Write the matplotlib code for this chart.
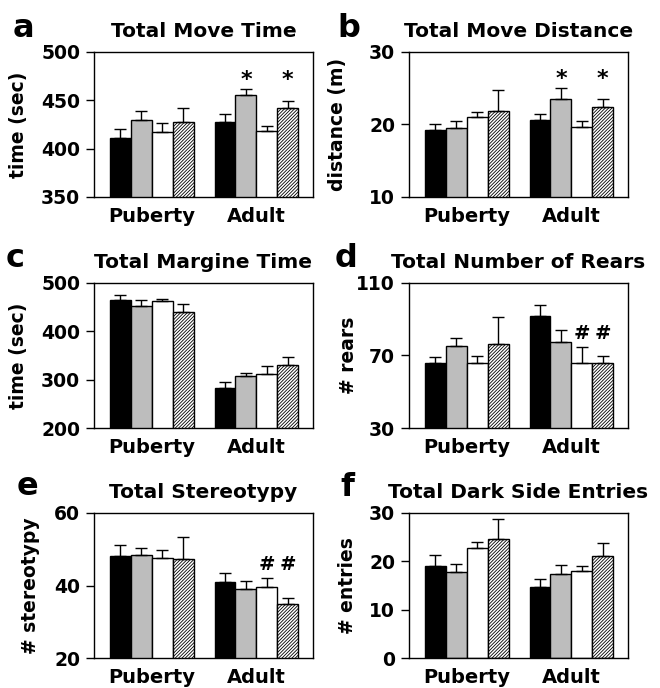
import matplotlib
matplotlib.use("Agg")
import matplotlib.pyplot as plt
from matplotlib.transforms import blended_transform_factory

plt.rcParams["font.family"] = ["DejaVu Sans"]
plt.rcParams["font.weight"] = "bold"
plt.rcParams["hatch.linewidth"] = 0.6

groups = ["Puberty", "Adult"]

# bars per group: black, gray, white, hatched
move_time = [[411, 430, 417, 428], [428, 455, 418, 442]]
move_time_err = [[9, 9, 9.6, 14.5], [8, 7, 5, 7.5]]

move_dist = [[19.3, 19.5, 21.1, 21.8], [20.6, 23.5, 19.6, 22.4]]
move_dist_err = [[0.8, 1.0, 0.6, 2.9], [0.8, 1.5, 0.85, 1.1]]

margin_time = [[464, 453, 463, 439], [283, 308, 312, 331]]
margin_time_err = [[12, 12, 4, 18], [12, 6, 17, 15]]

rears = [[66, 75, 66, 76.5], [92, 77.5, 66, 66]]
rears_err = [[3, 4.5, 3.5, 15], [6, 6.5, 8.7, 3.5]]

stereotypy = [[48.2, 48.4, 47.6, 47.3], [40.9, 38.9, 39.5, 35.0]]
stereotypy_err = [[2.9, 2.0, 2.1, 6.2], [2.5, 2.4, 2.6, 1.5]]

dark_entries = [[19.0, 17.8, 22.8, 24.6], [14.6, 17.4, 18.1, 21.1]]
dark_entries_err = [[2.3, 1.7, 1.2, 4.2], [1.8, 1.8, 1.0, 2.7]]

face_colors = ["black", "#bdbdbd", "white", "white"]
hatches = [None, None, None, "//////////"]

panels = [
    ("a", "Total Move Time", "time (sec)", move_time, move_time_err,
     (350, 500), [350, 400, 450, 500], [(1, 1, "*"), (1, 3, "*")], 0.81),
    ("b", "Total Move Distance", "distance (m)", move_dist, move_dist_err,
     (10, 30), [10, 20, 30], [(1, 1, "*"), (1, 3, "*")], 0.815),
    ("c", "Total Margine Time", "time (sec)", margin_time, margin_time_err,
     (200, 500), [200, 300, 400, 500], [], 0),
    ("d", "Total Number of Rears", "# rears", rears, rears_err,
     (30, 110), [30, 70, 110], [(1, 2, "#"), (1, 3, "#")], 0.654),
    ("e", "Total Stereotypy", "# stereotypy", stereotypy, stereotypy_err,
     (20, 60), [20, 40, 60], [(1, 2, "#"), (1, 3, "#")], 0.645),
    ("f", "Total Dark Side Entries", "# entries", dark_entries, dark_entries_err,
     (0, 30), [0, 10, 20, 30], [], 0),
]

W, H = 660, 688
fig = plt.figure(figsize=(W / 100, H / 100), dpi=100)

col_left = [94, 409]
row_top = [52, 283, 513]
ax_w, ax_h = 219, 145
label_x = [-0.30, -0.283, -0.30, -0.233, -0.247, -0.237]
letter_pos = [(13, 37), (337, 37), (6, 267), (335, 267), (17, 495), (340, 496)]
width = 0.2

for k, (letter, title, ylabel, means, errs, ylim, yticks, marks, mark_y) in enumerate(panels):
    r, c = divmod(k, 2)
    ax = fig.add_axes([col_left[c] / W, 1 - (row_top[r] + ax_h) / H, ax_w / W, ax_h / H])
    for g in range(len(groups)):
        for i in range(4):
            x = g + (i - 1.5) * width
            ax.bar(x, means[g][i], width=width, bottom=0, color=face_colors[i],
                   edgecolor="black", linewidth=1.0, hatch=hatches[i], zorder=2)
            ax.errorbar(x, means[g][i], yerr=[[0], [errs[g][i]]], fmt="none",
                        ecolor="black", elinewidth=1.0, capsize=4, capthick=1.0, zorder=3)
    trans = blended_transform_factory(ax.transData, ax.transAxes)
    for g, i, sym in marks:
        ax.text(g + (i - 1.5) * width, mark_y, sym, transform=trans, ha="center",
                va="center", fontsize=16 if sym == "*" else 14, fontweight="bold")
    ax.set_xlim(-0.55, 1.54)
    ax.set_ylim(*ylim)
    ax.set_yticks(yticks)
    ax.set_xticks(range(len(groups)))
    ax.set_xticklabels(groups, fontsize=14, fontweight="bold")
    ax.tick_params(axis="x", length=0, pad=7)
    ax.tick_params(axis="y", length=6, width=1, direction="out", pad=4, labelsize=13.5)
    for s in ax.spines.values():
        s.set_linewidth(1.0)
    ax.set_title(title, fontsize=14.5, fontweight="bold", pad=11)
    ax.set_ylabel(ylabel, fontsize=13.5, fontweight="bold")
    ax.yaxis.set_label_coords(label_x[k], 0.5)
    lx, ly = letter_pos[k]
    fig.text(lx / W, 1 - ly / H, letter, fontsize=23, fontweight="bold", va="baseline")

fig.savefig("out.png", dpi=100)
